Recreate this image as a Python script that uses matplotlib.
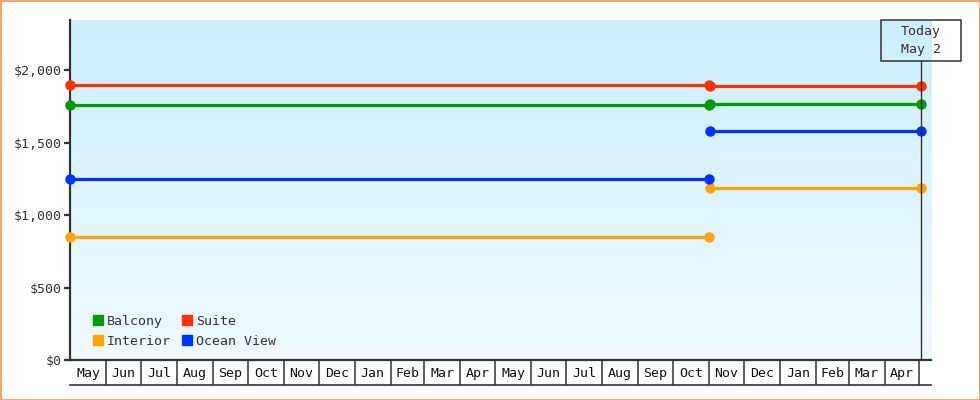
import matplotlib
matplotlib.use('Agg')
import matplotlib.pyplot as plt
import matplotlib.dates as mdates
from matplotlib.lines import Line2D
from matplotlib.patches import Rectangle
from matplotlib.transforms import IdentityTransform
import numpy as np
import datetime as dt

# ---------------- data ----------------
series_names = ['Balcony', 'Suite', 'Interior', 'Ocean View']
series_colors = ['#009900', '#ff3300', '#ffa500', '#0033ff']
period1 = ['2023-05-01', '2024-11-01']
period2 = ['2024-11-02', '2025-05-02']
prices_period1 = [1759, 1899, 849, 1249]
prices_period2 = [1769, 1889, 1189, 1579]
month_labels = ['May', 'Jun', 'Jul', 'Aug', 'Sep', 'Oct', 'Nov', 'Dec', 'Jan', 'Feb', 'Mar', 'Apr',
                'May', 'Jun', 'Jul', 'Aug', 'Sep', 'Oct', 'Nov', 'Dec', 'Jan', 'Feb', 'Mar', 'Apr']
y_ticks = [0, 500, 1000, 1500, 2000]
y_tick_labels = ['$0', '$500', '$1,000', '$1,500', '$2,000']
x_range = ['2023-05-01', '2025-05-11']
today = '2025-05-02'
today_text = ['Today', 'May 2']

# ---------------- style ----------------
W, H = 980, 400
DPI = 100
FONT = 'DejaVu Sans Mono'
FS = 9.5
TXT = '#333333'
plt.rcParams['font.family'] = [FONT]

def d(s):
    return mdates.date2num(dt.datetime.strptime(s, '%Y-%m-%d'))

fig = plt.figure(figsize=(W / DPI, H / DPI), dpi=DPI)
fig.patch.set_facecolor('white')

L, R, T, B = 70, 931, 20, 360
ax = fig.add_axes([L / W, (H - B) / H, (R - L) / W, (B - T) / H])

# gradient background
grad = np.linspace(0, 1, 256).reshape(-1, 1)
top = np.array([204, 239, 252]) / 255
bot = np.array([240, 250, 255]) / 255
img = top[None, None, :] * (1 - grad[:, :, None]) + bot[None, None, :] * grad[:, :, None]
ax.imshow(img, extent=[0, 1, 0, 1], transform=ax.transAxes, aspect='auto', zorder=0)
ax.set_xlim(d(x_range[0]), d(x_range[1]))
ax.set_ylim(0, 2345)

for sp in ['top', 'right', 'bottom']:
    ax.spines[sp].set_visible(False)
ax.spines['left'].set_color(TXT)
ax.spines['left'].set_linewidth(1.6)
ax.set_xticks([])
ax.set_yticks(y_ticks)
ax.set_yticklabels(y_tick_labels, fontsize=FS, color=TXT)
ax.tick_params(axis='y', length=4, width=1.6, color=TXT, pad=2)

# series
for name, col, p1, p2 in zip(series_names, series_colors, prices_period1, prices_period2):
    ax.plot([d(period1[0]), d(period1[1])], [p1, p1], color=col, lw=2.3,
            marker='o', ms=6.5, zorder=3, solid_capstyle='butt', clip_on=False)
    ax.plot([d(period2[0]), d(period2[1])], [p2, p2], color=col, lw=2.3,
            marker='o', ms=6.5, zorder=3, solid_capstyle='butt', clip_on=False)

# today line
box_bottom_px = 61
ax.axvline(d(today), ymin=0, ymax=(B - box_bottom_px) / (B - T), color=TXT, lw=1, zorder=4)

# legend
order = [0, 2, 1, 3]
handles = [Line2D([], [], ls='none', marker='s', ms=7.5, color=series_colors[i]) for i in order]
labels = [series_names[i] for i in order]
leg = ax.legend(handles, labels, ncol=2, loc='lower left',
                bbox_to_anchor=((93 - L) / (R - L), (B - 348) / (B - T)),
                frameon=False, fontsize=FS, handlelength=0.8, handletextpad=0.25,
                columnspacing=0.85, labelspacing=0.55, borderpad=0, borderaxespad=0)
for t in leg.get_texts():
    t.set_color(TXT)

# month axis
mx = fig.add_axes([L / W, (H - 385) / H, (R - L) / W, 25 / H], sharex=ax)
mx.set_ylim(0, 1)
mx.set_facecolor('none')
for sp in ['left', 'right']:
    mx.spines[sp].set_visible(False)
mx.spines['top'].set_color(TXT)
mx.spines['top'].set_linewidth(1.6)
mx.spines['bottom'].set_color(TXT)
mx.spines['bottom'].set_linewidth(1.2)
mx.set_yticks([])
mx.tick_params(axis='x', bottom=False, labelbottom=False)
start = dt.datetime.strptime(x_range[0], '%Y-%m-%d')
bounds = []
y, m = start.year, start.month
for i in range(len(month_labels) + 1):
    bounds.append(mdates.date2num(dt.datetime(y, m, 1)))
    m += 1
    if m > 12:
        m = 1
        y += 1
for i, lab in enumerate(month_labels):
    mx.text((bounds[i] + bounds[i + 1]) / 2, 0.45, lab, ha='center', va='center',
            fontsize=FS, color='#111111')
for b in bounds[1:]:
    mx.axvline(b, color=TXT, lw=1.1)
mx.set_xlim(d(x_range[0]), d(x_range[1]))

# today box
fig.canvas.draw()
xp = ax.transData.transform((d(today), 0))[0]
fig.add_artist(Rectangle((xp - 40, H - box_bottom_px), 80, box_bottom_px - T, fill=False,
                         ec=TXT, lw=1.1, transform=IdentityTransform()))
fig.text(xp, H - 32, today_text[0], ha='center', va='center', fontsize=FS, color=TXT,
         transform=IdentityTransform())
fig.text(xp, H - 50, today_text[1], ha='center', va='center', fontsize=FS, color=TXT,
         transform=IdentityTransform())

# outer border
fig.add_artist(Rectangle((0.5, 0.5), W - 1, H - 1, fill=False, ec='#eeaa66', lw=1.5,
                         transform=IdentityTransform()))

fig.savefig('out.png', dpi=DPI)
